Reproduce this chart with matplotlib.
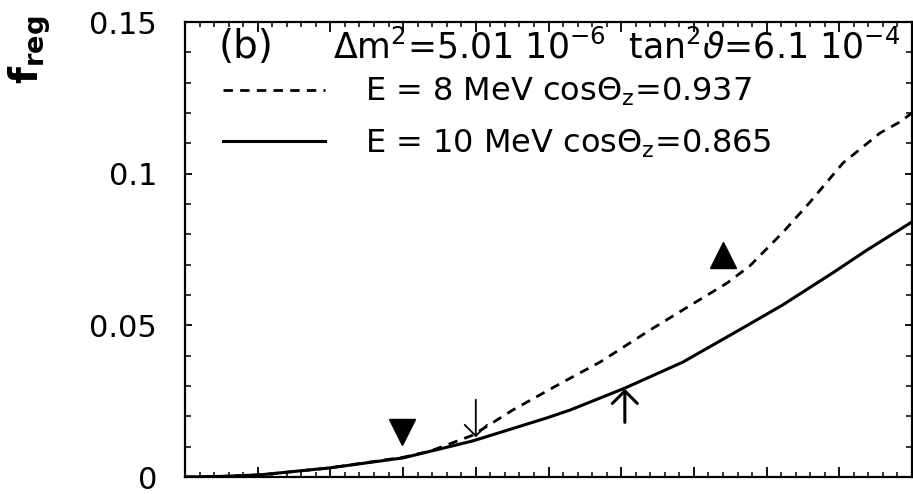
import matplotlib
matplotlib.use("Agg")
import matplotlib.pyplot as plt
from matplotlib.ticker import MultipleLocator, FixedLocator, FixedFormatter

plt.rcParams['font.family'] = ['DejaVu Sans']
plt.rcParams['mathtext.fontset'] = 'dejavusans'

# regeneration fraction along the trajectory
x_solid = [0.0, 0.5, 1.03, 1.99, 3.0, 3.96, 4.98, 5.30, 6.05, 6.85, 7.67, 8.22, 8.91, 9.38, 10.0]
f_solid = [0.0, 0.0002, 0.0007, 0.003, 0.0063, 0.0119, 0.0195, 0.0221, 0.0293, 0.0379,
           0.0491, 0.0567, 0.0673, 0.0748, 0.0841]

x_dash = [0.0, 0.5, 1.03, 1.99, 3.0, 3.37, 3.96, 4.51, 5.2, 5.71, 6.4, 6.85, 7.46, 7.77,
          8.23, 8.6, 9.05, 9.56, 9.83, 10.0]
f_dash = [0.0, 0.0002, 0.0007, 0.003, 0.0065, 0.0085, 0.0138, 0.0221, 0.0313, 0.0379, 0.0485,
          0.0551, 0.064, 0.0696, 0.0808, 0.0907, 0.1035, 0.1134, 0.117, 0.120]

label_dash = r'E = 8 MeV cos$\Theta_\mathrm{z}$=0.937'
label_solid = r'E = 10 MeV cos$\Theta_\mathrm{z}$=0.865'

# markers
tri_down = (2.98, 0.0148)
tri_up = (7.4, 0.0732)

# arrows: (x, tail y, head y)
arrow_down = (4.0, 0.0264, 0.0122)
arrow_up = (6.05, 0.0171, 0.0300)

y_ticks = [0.0, 0.05, 0.1, 0.15]
y_ticklabels = ['0', '0.05', '0.1', '0.15']

fig = plt.figure(figsize=(9.13, 4.94), dpi=100)
ax = fig.add_axes([185 / 913, 17 / 494, 727 / 913, 455 / 494])

ax.plot(x_dash, f_dash, color='black', lw=2.0, ls=(0, (3.4, 2.6)), label=label_dash)
ax.plot(x_solid, f_solid, color='black', lw=2.2, label=label_solid)

ax.plot(*tri_down, marker='v', ms=19, color='black', ls='none')
ax.plot(*tri_up, marker='^', ms=19, color='black', ls='none')

ax.annotate('', xy=(arrow_down[0], arrow_down[2]), xytext=(arrow_down[0], arrow_down[1]),
            arrowprops=dict(arrowstyle='->,head_length=0.4,head_width=0.4',
                            lw=1.3, color='black', mutation_scale=20))
ax.annotate('', xy=(arrow_up[0], arrow_up[2]), xytext=(arrow_up[0], arrow_up[1]),
            arrowprops=dict(arrowstyle='->,head_length=0.45,head_width=0.45',
                            lw=2.2, color='black', mutation_scale=20))

ax.set_xlim(0, 10)
ax.set_ylim(0, 0.15)

ax.xaxis.set_major_locator(MultipleLocator(1))
ax.xaxis.set_minor_locator(MultipleLocator(0.2))
ax.yaxis.set_major_locator(FixedLocator(y_ticks))
ax.yaxis.set_major_formatter(FixedFormatter(y_ticklabels))
ax.yaxis.set_minor_locator(MultipleLocator(0.01))
ax.tick_params(axis='both', which='both', direction='in', top=True, right=True, color='black')
ax.tick_params(axis='x', which='major', length=7, width=1.3, labelbottom=False)
ax.tick_params(axis='x', which='minor', length=3.5, width=1.1)
ax.tick_params(axis='y', which='major', length=5, width=1.3, labelsize=22, pad=20)
ax.tick_params(axis='y', which='minor', length=4, width=1.1)
for s in ax.spines.values():
    s.set_linewidth(1.6)

ax.text(0.046, 0.945, '(b)', transform=ax.transAxes, fontsize=28, va='center', ha='left')
ax.text(0.203, 0.945, r'$\Delta$m$^2$=5.01 10$^{-6}$  tan$^2\vartheta$=6.1 10$^{-4}$',
        transform=ax.transAxes, fontsize=25, va='center', ha='left')

ax.legend(loc='upper left', bbox_to_anchor=(0.052, 0.882), frameon=False, fontsize=23,
          handlelength=3.2, handletextpad=1.25, labelspacing=0.6, borderpad=0, borderaxespad=0)

fig.text(30 / 913, 1 - 50 / 494, r'$\mathbf{f}_\mathbf{reg}$', rotation=90, fontsize=28,
         ha='center', va='center')

fig.savefig('out.png', dpi=100)
